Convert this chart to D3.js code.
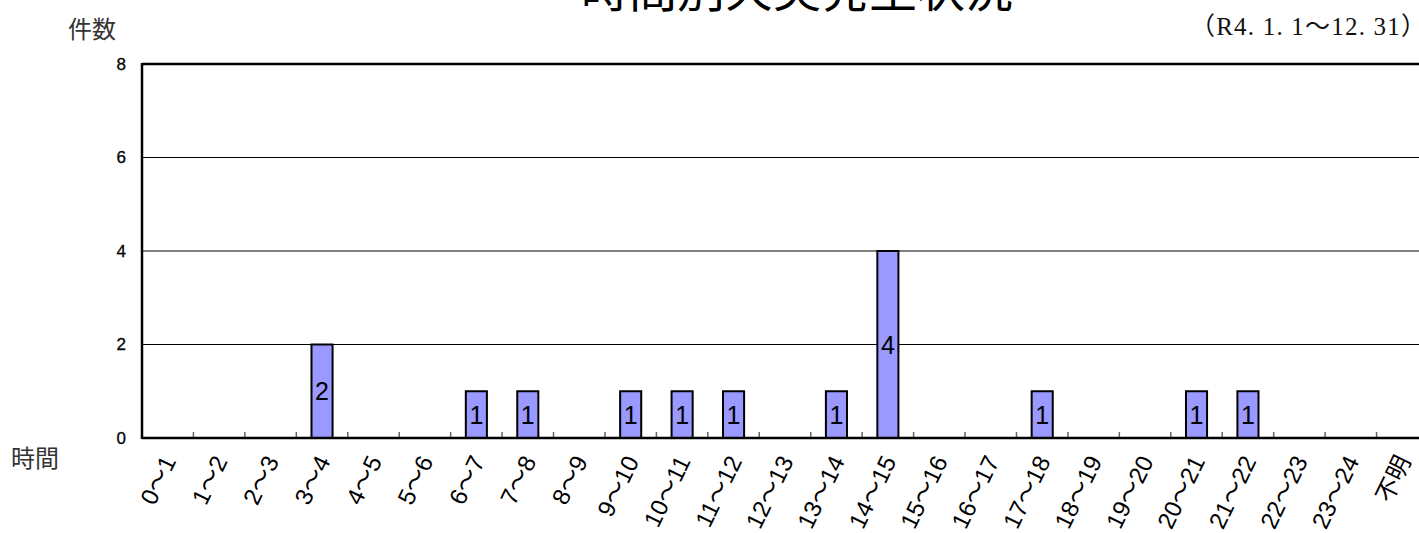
<!DOCTYPE html>
<html>
<head>
<meta charset="utf-8">
<script src="https://cdn.jsdelivr.net/npm/d3@7"></script>
<style>
body { margin: 0; background: #fff; overflow: hidden; }
svg { display: block; }
</style>
</head>
<body>
<svg id="chart" width="1419" height="533"></svg>
<script>
const hours = ["0～1", "1～2", "2～3", "3～4", "4～5", "5～6", "6～7", "7～8", "8～9", "9～10",
	"10～11", "11～12", "12～13", "13～14", "14～15", "15～16", "16～17", "17～18", "18～19",
	"19～20", "20～21", "21～22", "22～23", "23～24", "不明"];
const counts = [0, 0, 0, 2, 0, 0, 1, 1, 0, 1, 1, 1, 0, 1, 4, 0, 0, 1, 0, 0, 1, 1, 0, 0, 0];
const yTicks = [0, 2, 4, 6, 8];

const chart = d3.select("#chart");
const plotLeft = 142, plotTop = 64, plotBottom = 438, plotRight = 1428;
const font = "'Liberation Sans', Arial, 'Noto Sans CJK JP', sans-serif";

const x = d3.scaleBand().domain(hours).range([plotLeft, plotRight]).paddingInner(0.59).paddingOuter(0.295);
const y = d3.scaleLinear().domain([0, 8]).range([plotBottom, plotTop]);

// title (mostly cut off at the top, as in the source)
chart.append("text")
	.text("時間別火災発生状況")
	.attr("x", 797).attr("y", 7)
	.attr("text-anchor", "middle")
	.attr("font-family", "'Noto Sans CJK JP'")
	.attr("font-size", 48)
	.attr("fill", "#000");

chart.append("text")
	.text("（R4. 1. 1～12. 31）")
	.attr("x", 1190).attr("y", 35)
	.attr("textLength", 236)
	.attr("lengthAdjust", "spacing")
	.attr("font-family", "'Liberation Serif', 'Noto Sans CJK JP', serif")
	.attr("font-size", 25)
	.attr("fill", "#111");

chart.append("text").text("件数")
	.attr("x", 68).attr("y", 38)
	.attr("font-family", "'Noto Sans CJK JP'")
	.attr("font-size", 24).attr("fill", "#333");

chart.append("text").text("時間")
	.attr("x", 11).attr("y", 467)
	.attr("font-family", "'Noto Sans CJK JP'")
	.attr("font-size", 24).attr("fill", "#333");

// gridlines
chart.append("g")
	.selectAll("line")
	.data(yTicks.filter(d => d > 0 && d < 8))
	.enter().append("line")
	.attr("x1", plotLeft).attr("x2", plotRight)
	.attr("y1", d => y(d)).attr("y2", d => y(d))
	.attr("stroke", "#000").attr("stroke-width", 1);

// y axis labels
const yAxis = chart.append("g")
	.attr("transform", "translate(" + plotLeft + ",0)")
	.call(d3.axisLeft(y).tickValues(yTicks).tickSize(0).tickPadding(16));
yAxis.select(".domain").remove();
yAxis.selectAll("text")
	.attr("font-family", font)
	.attr("font-size", 17)
	.attr("fill", "#000")
	.attr("stroke", "#000")
	.attr("stroke-width", 0.3);

// x axis tick marks between categories (pointing up)
const bounds = d3.range(1, hours.length).map(i => x.step() * i + plotLeft);
chart.append("g")
	.selectAll("line")
	.data(bounds)
	.enter().append("line")
	.attr("x1", d => d).attr("x2", d => d)
	.attr("y1", plotBottom - 6).attr("y2", plotBottom)
	.attr("stroke", "#666").attr("stroke-width", 1.5);

// bars
const barData = counts.map((v, i) => ({ h: hours[i], v: v })).filter(d => d.v > 0);
const bars = chart.append("g");
bars.selectAll("rect")
	.data(barData)
	.enter().append("rect")
	.attr("x", d => x(d.h))
	.attr("width", x.bandwidth())
	.attr("y", d => y(d.v))
	.attr("height", d => y(0) - y(d.v))
	.attr("fill", "#9999ff")
	.attr("stroke", "#000")
	.attr("stroke-width", 2);

bars.selectAll("text")
	.data(barData)
	.enter().append("text")
	.text(d => d.v)
	.attr("x", d => x(d.h) + x.bandwidth() / 2)
	.attr("y", d => (y(d.v) + y(0)) / 2 + 9)
	.attr("text-anchor", "middle")
	.attr("font-family", font)
	.attr("font-size", 25)
	.attr("fill", "#000");

// frame: top, left, bottom
const frame = chart.append("g").attr("stroke", "#000").attr("stroke-width", 2.5).attr("fill", "none");
frame.append("line").attr("x1", plotLeft).attr("x2", plotRight).attr("y1", plotTop).attr("y2", plotTop);
frame.append("line").attr("x1", plotLeft).attr("x2", plotLeft).attr("y1", plotTop - 1).attr("y2", plotBottom + 1);
frame.append("line").attr("x1", plotLeft).attr("x2", plotRight).attr("y1", plotBottom).attr("y2", plotBottom);

// x labels, rotated
chart.append("g")
	.selectAll("text")
	.data(hours)
	.enter().append("text")
	.text(d => d)
	.attr("text-anchor", "end")
	.attr("font-family", font)
	.attr("font-size", 24)
	.attr("fill", "#000")
	.attr("transform", d => "translate(" + (x(d) + x.bandwidth() / 2 + 9) + "," + 461 + ") rotate(-64)");
</script>
</body>
</html>
